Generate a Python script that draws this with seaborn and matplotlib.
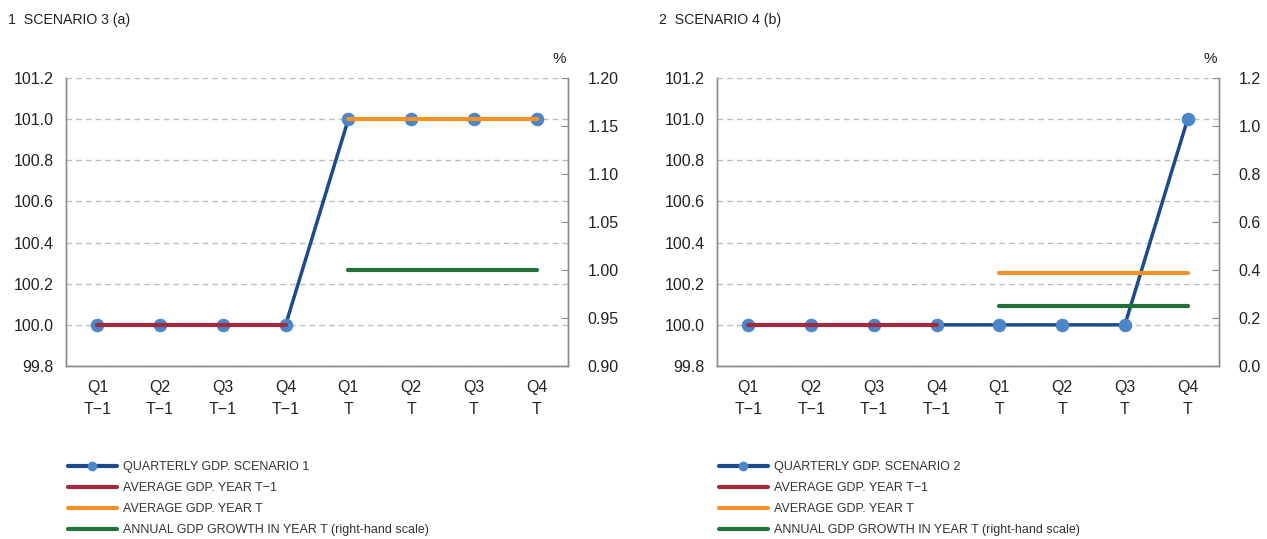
import matplotlib
matplotlib.use("Agg")
import matplotlib.pyplot as plt
import numpy as np
import pandas as pd
import seaborn as sns

# data
quarters = ["Q1\nT\u22121", "Q2\nT\u22121", "Q3\nT\u22121", "Q4\nT\u22121", "Q1\nT", "Q2\nT", "Q3\nT", "Q4\nT"]
gdp_s1 = [100.0, 100.0, 100.0, 100.0, 101.0, 101.0, 101.0, 101.0]
gdp_s2 = [100.0, 100.0, 100.0, 100.0, 100.0, 100.0, 100.0, 101.0]
avg_prev_s1 = 100.0
avg_cur_s1 = 101.0
growth_s1 = 1.00
avg_prev_s2 = 100.0
avg_cur_s2 = 100.25
growth_s2 = 0.25
titles = ["1  SCENARIO 3 (a)", "2  SCENARIO 4 (b)"]
legend_first = ["QUARTERLY GDP. SCENARIO 1", "QUARTERLY GDP. SCENARIO 2"]
legend_rest = ["AVERAGE GDP. YEAR T\u22121", "AVERAGE GDP. YEAR T",
               "ANNUAL GDP GROWTH IN YEAR T (right-hand scale)"]
right_lims = [(0.90, 1.20, 0.05, "%.2f"), (0.0, 1.2, 0.2, "%.1f")]

BLUE = "#1d4a8c"
MARK = "#4a86c8"
RED = "#a3293f"
ORANGE = "#f39229"
GREEN = "#23703a"
GRID = "#bdbdbd"
SPINE = "#8c8c8c"
TXT = "#222222"

sns.set_style("white")
plt.rcParams["font.family"] = ["Liberation Sans", "DejaVu Sans"]

fig = plt.figure(figsize=(12.67, 5.39), dpi=100)

panels = [
    (gdp_s1, avg_prev_s1, avg_cur_s1, growth_s1),
    (gdp_s2, avg_prev_s2, avg_cur_s2, growth_s2),
]
lefts = [66 / 1267, 717 / 1267]
W = 502 / 1267
B = 1 - 366 / 539
H = 288 / 539

for i, (gdp, ap, ac, gr) in enumerate(panels):
    ax = fig.add_axes([lefts[i], B, W, H])
    ax2 = ax.twinx()
    x = np.arange(len(quarters))
    df = pd.DataFrame({"x": x, "gdp": gdp})
    sns.lineplot(data=df, x="x", y="gdp", ax=ax, color=BLUE, lw=2.5,
                 marker="o", markersize=9, markerfacecolor=MARK,
                 markeredgecolor=MARK, zorder=3)
    prev = pd.DataFrame({"x": x[:4], "y": [ap] * 4})
    cur = pd.DataFrame({"x": x[4:], "y": [ac] * 4})
    sns.lineplot(data=prev, x="x", y="y", ax=ax, color=RED, lw=3, zorder=4)
    sns.lineplot(data=cur, x="x", y="y", ax=ax, color=ORANGE, lw=3, zorder=4)
    grw = pd.DataFrame({"x": x[4:], "y": [gr] * 4})
    sns.lineplot(data=grw, x="x", y="y", ax=ax2, color=GREEN, lw=3, zorder=4)

    ax.set_xlim(-0.5, 7.5)
    ax.set_ylim(99.8, 101.2)
    ax.set_yticks(np.arange(99.8, 101.21, 0.2))
    ax.set_yticklabels(["%.1f" % v for v in np.arange(99.8, 101.21, 0.2)])
    ax.set_xticks(x)
    ax.set_xticklabels(quarters, linespacing=1.6)
    ax.set_xticks(np.arange(0.5, 7.0, 1.0), minor=True)
    ax.tick_params(axis="x", which="major", length=0, pad=10, labelsize=11.5, colors=TXT)
    ax.tick_params(axis="x", which="minor", length=5, direction="in", color=SPINE)
    ax.tick_params(axis="y", length=0, pad=9, labelsize=11.5, colors=TXT)
    ax.grid(axis="y", color=GRID, ls=(0, (4, 3)), lw=1)
    ax.set_axisbelow(True)
    ax.set_xlabel("")
    ax.set_ylabel("")

    lo, hi, st, fmt = right_lims[i]
    ax2.set_ylim(lo, hi)
    ticks = np.arange(lo, hi + st / 2, st)
    ax2.set_yticks(ticks)
    ax2.set_yticklabels([fmt % v for v in ticks])
    ax2.tick_params(axis="y", direction="in", length=5, color=SPINE, pad=14,
                    labelsize=11.5, colors=TXT)
    ax2.set_ylabel("")
    ax2.text(0.997, 1.04, "%", transform=ax.transAxes, ha="right", va="bottom",
             fontsize=11, color=TXT)

    for a in (ax, ax2):
        a.spines["top"].set_visible(False)
        for s in ("left", "right", "bottom"):
            a.spines[s].set_color(SPINE)
            a.spines[s].set_linewidth(1)

    fig.text(lefts[i] - 58 / 1267, 1 - 20 / 539, titles[i], ha="left", va="center",
             fontsize=10.2, color=TXT)

    # legend
    handles = [
        plt.Line2D([], [], color=BLUE, lw=3, marker="o", markersize=6,
                   markerfacecolor=MARK, markeredgecolor=MARK),
        plt.Line2D([], [], color=RED, lw=3),
        plt.Line2D([], [], color=ORANGE, lw=3),
        plt.Line2D([], [], color=GREEN, lw=3),
    ]
    labels = [legend_first[i]] + legend_rest
    fig.legend(handles, labels, loc="upper left",
               bbox_to_anchor=(lefts[i] - 3 / 1267, 1 - 456 / 539),
               frameon=False, prop={"size": 9},
               handlelength=3.9, handletextpad=0.5, labelspacing=0.72,
               borderaxespad=0, labelcolor="#333333")

fig.savefig("out.png", dpi=100)
